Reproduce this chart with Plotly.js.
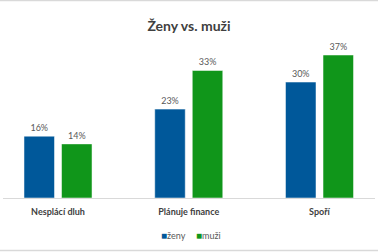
<!DOCTYPE html>
<html>
<head>
<meta charset="utf-8">
<script src="https://cdn.plot.ly/plotly-3.0.1.min.js"></script>
<style>html,body{margin:0;padding:0;background:#fff;}#chart{width:378px;height:252px;}</style>
</head>
<body>
<div id="chart"></div>
<script>
const categories = ["Nesplácí dluh", "Plánuje finance", "Spoří"];
const seriesNames = ["ženy", "muži"];
const zeny = [16, 23, 30];
const muzi = [14, 33, 37];
const colors = ["#00589A", "#10961A"];

const FONT = "Lato, 'Open Sans', sans-serif";
const traces = [
  {type: "bar", name: seriesNames[0], x: categories, y: zeny,
   marker: {color: colors[0], line: {color: "#ffffff", width: 0.5}},
   text: zeny.map(v => v + "%"), textposition: "outside", cliponaxis: false,
   textfont: {family: FONT, size: 9, color: "#595959"}, hoverinfo: "none"},
  {type: "bar", name: seriesNames[1], x: categories, y: muzi,
   marker: {color: colors[1], line: {color: "#ffffff", width: 0.5}},
   text: muzi.map(v => v + "%"), textposition: "outside", cliponaxis: false,
   textfont: {family: FONT, size: 9, color: "#595959"}, hoverinfo: "none"}
];

const legendX = [0.419, 0.513];
const legendAnnotations = seriesNames.map((n, i) => ({
  xref: "paper", yref: "paper", x: legendX[i], y: -0.234, xanchor: "left", yanchor: "middle",
  showarrow: false, text: '<span style="color:' + colors[i] + ';font-size:10px">■</span>' + n,
  font: {family: FONT, size: 9, color: "#595959"}
}));

const layout = {
  width: 378, height: 252,
  margin: {l: 3, r: 3, t: 40, b: 54, pad: 0},
  paper_bgcolor: "#ffffff", plot_bgcolor: "#ffffff",
  font: {family: FONT, color: "#595959", size: 9},
  title: {text: "<b>Ženy vs. muži</b>", font: {family: FONT, size: 14, color: "#404040"},
          x: 0.5, xanchor: "center", y: 0.897, yanchor: "middle", xref: "paper"},
  barmode: "group", bargap: 0.426, bargroupgap: 0.187,
  xaxis: {type: "category", range: [-0.4207, 2.4244], showline: true, linecolor: "#d9d9d9", linewidth: 1,
          ticks: "", showgrid: false, zeroline: false, fixedrange: true, ticklabelstandoff: 5,
          tickfont: {family: FONT, size: 9, color: "#404040", weight: "bold"}},
  yaxis: {range: [0, 40.88], visible: false, showgrid: false, zeroline: false, fixedrange: true},
  showlegend: false,
  annotations: legendAnnotations,
  shapes: [
    {type: "line", xref: "paper", yref: "paper", x0: -0.01, x1: 1.01, y0: (198 - 0.5) / 158, y1: (198 - 0.5) / 158,
     line: {color: "#d9d9d9", width: 1.5}},
    {type: "line", xref: "paper", yref: "paper", x0: -0.01, x1: 1.01, y0: (198 - 250.5) / 158, y1: (198 - 250.5) / 158,
     line: {color: "#d9d9d9", width: 1.5}}
  ]
};

Plotly.newPlot("chart", traces, layout, {displayModeBar: false, staticPlot: true});
</script>
</body>
</html>
